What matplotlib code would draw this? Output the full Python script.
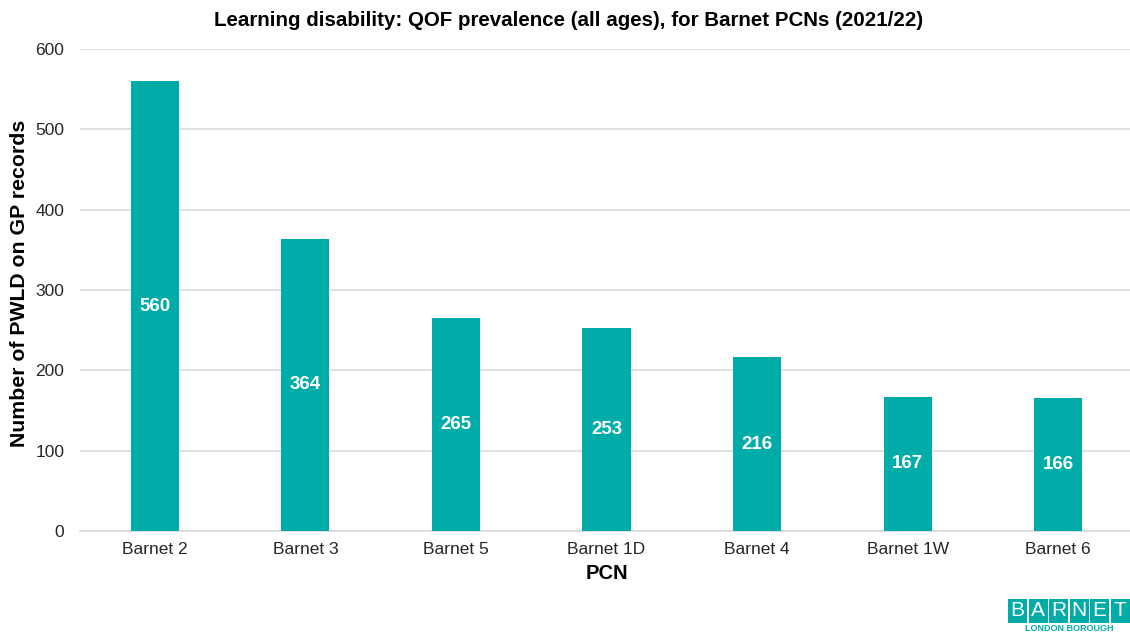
import matplotlib
matplotlib.use("Agg")
import matplotlib.pyplot as plt
from matplotlib.patches import Rectangle

plt.rcParams['font.family'] = ['Liberation Sans', 'DejaVu Sans']

pcns = ["Barnet 2", "Barnet 3", "Barnet 5", "Barnet 1D", "Barnet 4", "Barnet 1W", "Barnet 6"]
pwld_counts = [560, 364, 265, 253, 216, 167, 166]
y_ticks = [0, 100, 200, 300, 400, 500, 600]

teal = "#00ACA8"
grid_grey = "#D9D9D9"
text_dark = "#262626"

fig = plt.figure(figsize=(11.30, 6.34), dpi=100)
ax = fig.add_axes([79.5 / 1130, 1 - 531 / 634, (1133.5 - 79.5) / 1130, (531 - 49) / 634])

x = list(range(len(pcns)))
ax.bar(x, pwld_counts, width=0.32, color=teal, zorder=3)
for xi, v in zip(x, pwld_counts):
    ax.text(xi, v / 2, str(v), ha="center", va="center", color="white",
            fontsize=13.5, fontweight="bold", zorder=4)

ax.set_xlim(-0.5, len(pcns) - 0.5)
ax.set_ylim(0, 600)
ax.set_yticks(y_ticks)
ax.set_xticks(x)
ax.set_xticklabels(pcns, fontsize=12.5, color=text_dark)
ax.tick_params(axis="y", labelsize=12.5, labelcolor=text_dark, length=0, pad=11)
ax.tick_params(axis="x", length=0, pad=8)
ax.yaxis.grid(True, color=grid_grey, linewidth=1.2, zorder=0)
ax.set_axisbelow(True)
for s in ["top", "right", "left"]:
    ax.spines[s].set_visible(False)
ax.spines["bottom"].set_color(grid_grey)
ax.spines["bottom"].set_linewidth(1.2)

ax.set_xlabel("PCN", fontsize=14.5, fontweight="bold", labelpad=5, color="black")
ax.set_ylabel("Number of PWLD on GP records", fontsize=15.3, fontweight="bold", color="black")
ax.yaxis.set_label_coords((29 - 79.5) / 1054, (531 - 283.5) / 482)
fig.text(568.5 / 1130, 1 - 20 / 634, "Learning disability: QOF prevalence (all ages), for Barnet PCNs (2021/22)",
         ha="center", va="center", fontsize=14.8, fontweight="bold")

# Borough logo in the lower right corner
letters = "BARNET"
box_w, box_h = 19 / 1130, 24 / 634
x0, y0 = 1008 / 1130, 1 - 623 / 634
for i, ch in enumerate(letters):
    bx = x0 + i * (box_w + 1.5 / 1130)
    fig.patches.append(Rectangle((bx, y0), box_w, box_h, transform=fig.transFigure,
                                 facecolor=teal, edgecolor="none"))
    fig.text(bx + box_w / 2, y0 + box_h / 2, ch, ha="center", va="center",
             color="white", fontsize=15)
fig.text(x0 + 3 * (box_w + 1.5 / 1130), 1 - 628.5 / 634, "LONDON BOROUGH", ha="center", va="center",
         color=teal, fontsize=6.5, fontweight="bold")

fig.savefig("out.png", dpi=100)
